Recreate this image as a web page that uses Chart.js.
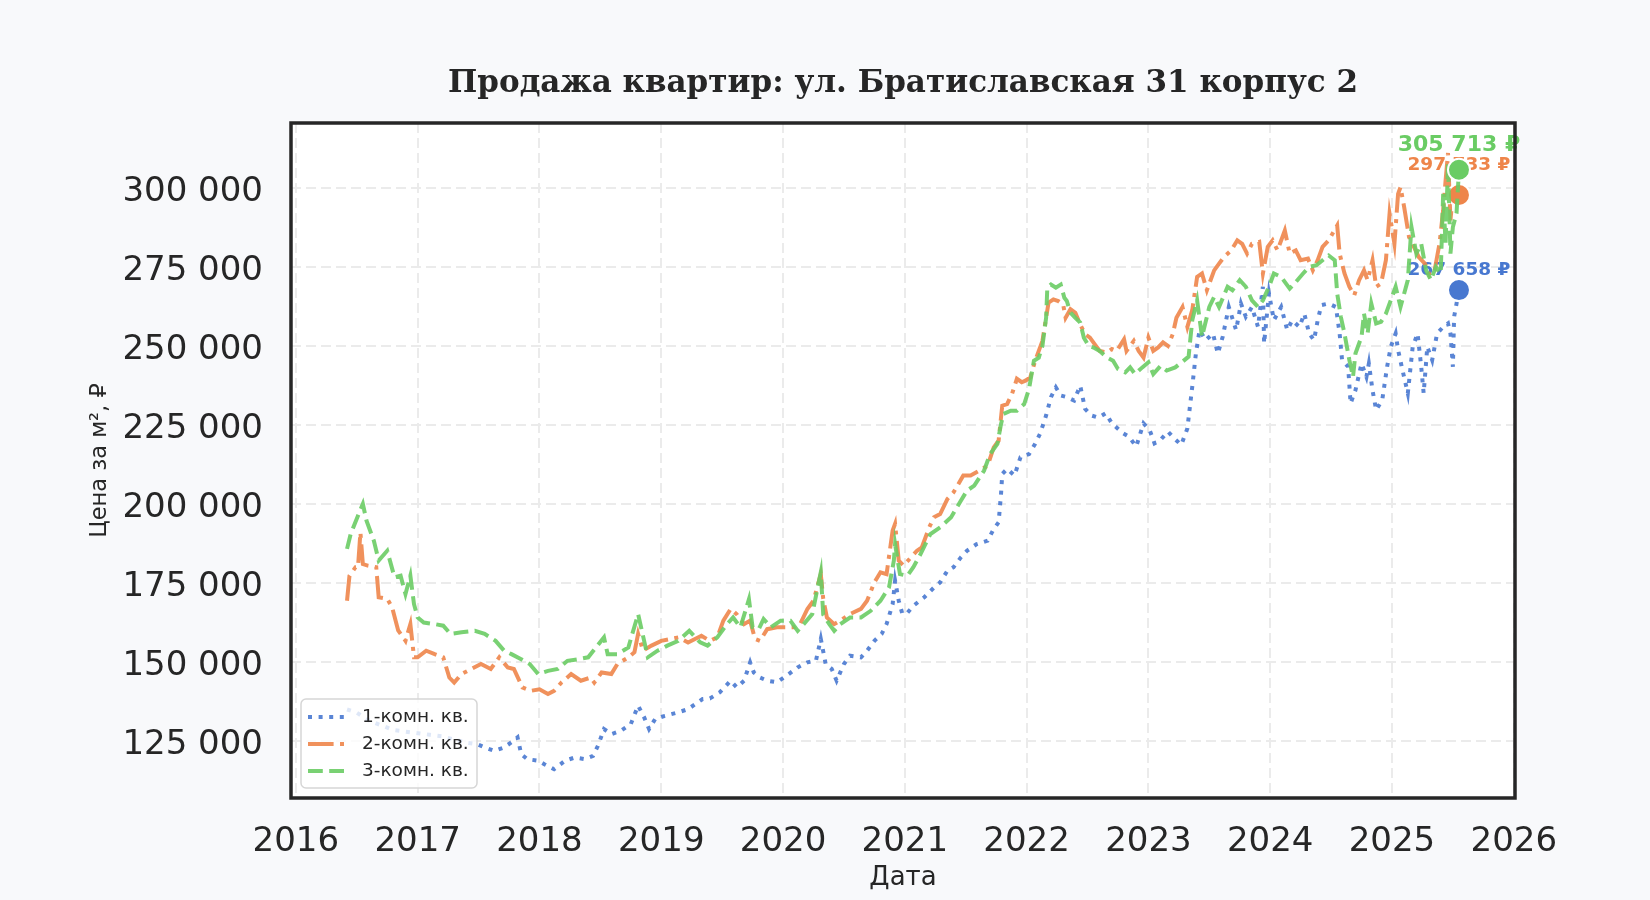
<!DOCTYPE html>
<html lang="ru">
<head>
<meta charset="utf-8">
<title>Продажа квартир: ул. Братиславская 31 корпус 2</title>
<script src="https://cdn.jsdelivr.net/npm/chart.js@4.4.1/dist/chart.umd.min.js"></script>
<style>
  html, body { margin: 0; padding: 0; background: #f8f9fb; }
  #chart { display: block; }
</style>
</head>
<body>
<canvas id="chart" width="1650" height="900"></canvas>
<script>
// [год (десятичный), цена за м²]
const oneRoom = [
  [2016.42,135000],[2016.50,134000],[2016.60,131500],[2016.70,130000],[2016.80,128500],[2016.90,128000],
  [2017.00,127500],[2017.10,127000],[2017.20,126500],[2017.30,125500],[2017.40,124500],[2017.49,124000],
  [2017.55,123000],[2017.63,121900],[2017.71,123000],[2017.77,124600],[2017.82,126200],[2017.85,120900],
  [2017.90,119300],[2017.99,118800],[2018.04,117700],[2018.12,116100],[2018.21,118800],[2018.29,119800],
  [2018.37,119300],[2018.44,120300],[2018.48,123500],[2018.53,128800],[2018.59,127200],[2018.67,128300],
  [2018.75,130400],[2018.81,136200],[2018.86,132500],[2018.90,128800],[2018.95,132000],[2019.03,133000],
  [2019.14,134100],[2019.22,135100],[2019.34,138300],[2019.40,138500],[2019.48,140400],[2019.57,144100],
  [2019.62,142000],[2019.68,144100],[2019.73,149900],[2019.76,146700],[2019.81,145100],[2019.87,144100],
  [2019.95,143600],[2020.03,145700],[2020.12,148300],[2020.20,149900],[2020.27,150400],[2020.31,157300],
  [2020.35,149400],[2020.40,147800],[2020.44,144100],[2020.50,149400],[2020.55,152000],[2020.64,151500],
  [2020.69,153600],[2020.75,156700],[2020.81,158900],[2020.85,162000],[2020.90,168300],[2020.92,175700],
  [2020.95,169400],[2020.98,165200],[2021.02,165500],[2021.07,167800],[2021.16,170500],[2021.24,173600],
  [2021.29,175200],[2021.35,178900],[2021.40,180000],[2021.46,183100],[2021.51,185200],[2021.59,187300],
  [2021.68,188400],[2021.73,192100],[2021.77,194200],[2021.79,203200],[2021.80,209500],[2021.84,211100],
  [2021.90,209000],[2021.95,214800],[2022.02,215800],[2022.07,219000],[2022.11,222200],[2022.16,228000],
  [2022.20,233800],[2022.24,236900],[2022.28,234300],[2022.33,233800],[2022.39,232700],[2022.44,237400],
  [2022.48,230100],[2022.53,228000],[2022.59,227300],[2022.65,228700],[2022.70,225500],[2022.79,222400],
  [2022.84,221300],[2022.90,218200],[2022.96,225500],[2023.01,223400],[2023.05,219200],[2023.10,220300],
  [2023.16,222900],[2023.21,220800],[2023.27,218700],[2023.32,223900],[2023.36,237100],[2023.39,247600],
  [2023.42,255000],[2023.47,251800],[2023.53,253900],[2023.57,247600],[2023.61,252900],[2023.66,262300],
  [2023.72,255000],[2023.76,263400],[2023.80,259200],[2023.85,262300],[2023.90,256000],[2023.94,268700],
  [2023.95,250800],[2023.99,266600],[2024.03,258100],[2024.09,262300],[2024.14,255000],[2024.18,258100],
  [2024.24,256000],[2024.28,260200],[2024.32,253900],[2024.36,251800],[2024.39,258100],[2024.42,262900],
  [2024.48,263400],[2024.54,262300],[2024.57,253900],[2024.59,245500],[2024.64,243400],[2024.66,231800],
  [2024.70,236000],[2024.75,244400],[2024.79,240200],[2024.81,244400],[2024.84,236000],[2024.87,229700],
  [2024.92,232900],[2024.96,243400],[2024.99,249700],[2025.03,253900],[2025.05,248700],[2025.08,243400],
  [2025.13,235000],[2025.17,249700],[2025.21,253900],[2025.24,243400],[2025.26,235000],[2025.29,249700],
  [2025.33,245500],[2025.37,253900],[2025.42,256000],[2025.46,257100],[2025.48,253900],[2025.50,243400],
  [2025.51,259200],[2025.53,263400],[2025.55,267658]
];

const twoRoom = [
  [2016.42,169400],[2016.44,177300],[2016.49,180000],[2016.51,180000],[2016.53,191000],[2016.55,181000],
  [2016.59,180500],[2016.66,180000],[2016.68,170500],[2016.75,170000],[2016.79,167300],[2016.84,160000],
  [2016.90,156700],[2016.94,162000],[2016.97,151500],[2017.00,151500],[2017.07,153600],[2017.14,152500],
  [2017.21,151500],[2017.26,145100],[2017.30,143500],[2017.36,146200],[2017.44,147800],[2017.52,149400],
  [2017.60,147800],[2017.67,151500],[2017.74,148300],[2017.79,147800],[2017.86,142000],[2017.93,140900],
  [2018.00,141400],[2018.07,139900],[2018.12,140900],[2018.18,143500],[2018.26,146200],[2018.34,144100],
  [2018.42,145100],[2018.45,143500],[2018.51,146700],[2018.59,146200],[2018.64,149400],[2018.73,151500],
  [2018.78,153100],[2018.81,158900],[2018.85,153600],[2018.92,155200],[2019.00,156700],[2019.14,157800],
  [2019.22,156200],[2019.33,158300],[2019.40,156700],[2019.46,157800],[2019.51,163100],[2019.57,166800],
  [2019.62,165100],[2019.68,162000],[2019.73,163100],[2019.77,157300],[2019.81,156700],[2019.87,160400],
  [2019.95,161000],[2020.03,161000],[2020.09,161000],[2020.14,162000],[2020.20,166800],[2020.25,169400],
  [2020.31,177800],[2020.33,170000],[2020.36,164100],[2020.42,162000],[2020.47,163100],[2020.55,165200],
  [2020.64,166800],[2020.69,169400],[2020.75,175200],[2020.80,178400],[2020.85,177800],[2020.90,191600],
  [2020.92,193700],[2020.95,182100],[2020.99,180500],[2021.05,183100],[2021.10,185200],[2021.14,186300],
  [2021.20,192600],[2021.24,195800],[2021.29,196800],[2021.35,201600],[2021.40,203700],[2021.44,206300],
  [2021.48,209000],[2021.54,209000],[2021.61,210500],[2021.68,212100],[2021.73,217900],[2021.77,220000],
  [2021.80,231100],[2021.84,231600],[2021.88,234800],[2021.92,239600],[2021.96,238500],[2021.99,239000],
  [2022.03,240000],[2022.07,245300],[2022.13,251600],[2022.16,258900],[2022.18,263700],[2022.22,264700],
  [2022.26,264200],[2022.30,263100],[2022.32,258900],[2022.36,261600],[2022.40,260500],[2022.44,256800],
  [2022.48,253700],[2022.52,252600],[2022.56,250500],[2022.60,248400],[2022.66,247900],[2022.70,249000],
  [2022.74,248400],[2022.80,252100],[2022.82,248400],[2022.88,251600],[2022.92,248400],[2022.96,246300],
  [2023.00,252600],[2023.04,248400],[2023.08,249500],[2023.12,251100],[2023.16,250000],[2023.20,253700],
  [2023.23,258900],[2023.28,262300],[2023.32,256000],[2023.36,261300],[2023.40,271800],[2023.44,272900],
  [2023.48,267600],[2023.54,273900],[2023.58,276000],[2023.62,278100],[2023.68,280200],[2023.73,283400],
  [2023.77,282300],[2023.81,279200],[2023.85,282300],[2023.91,282900],[2023.94,272900],[2023.98,281300],
  [2024.02,283400],[2024.06,280200],[2024.12,286500],[2024.16,279200],[2024.21,280200],[2024.25,277100],
  [2024.31,277600],[2024.35,273900],[2024.39,277100],[2024.43,281300],[2024.48,283400],[2024.55,288100],
  [2024.57,279200],[2024.61,272900],[2024.65,268700],[2024.69,266000],[2024.73,270800],[2024.77,273900],
  [2024.80,270800],[2024.84,277100],[2024.87,268700],[2024.91,269700],[2024.95,277100],[2024.98,291800],
  [2025.02,282300],[2025.05,298100],[2025.07,300200],[2025.10,293900],[2025.14,284400],[2025.18,281300],
  [2025.22,278100],[2025.27,276000],[2025.31,272300],[2025.35,273900],[2025.39,282300],[2025.42,292800],
  [2025.44,302300],[2025.46,311000],[2025.48,289700],[2025.50,298100],[2025.53,296000],[2025.55,297733]
];

const threeRoom = [
  [2016.42,185800],[2016.45,190500],[2016.51,196300],[2016.55,200000],[2016.58,194700],[2016.64,188400],
  [2016.68,182100],[2016.75,185200],[2016.81,176800],[2016.86,177300],[2016.90,171500],[2016.94,177300],
  [2016.97,168300],[2017.00,164100],[2017.05,162500],[2017.14,162000],[2017.21,161500],[2017.27,158900],
  [2017.36,159400],[2017.47,159900],[2017.55,158900],[2017.64,156700],[2017.71,153600],[2017.77,152500],
  [2017.85,150900],[2017.92,149400],[2017.99,146200],[2018.07,147200],[2018.15,147800],[2018.23,150400],
  [2018.32,150900],[2018.40,151500],[2018.53,157800],[2018.56,152500],[2018.64,152500],[2018.73,154600],
  [2018.81,165200],[2018.89,151500],[2018.97,153600],[2019.05,155200],[2019.14,156700],[2019.23,159900],
  [2019.32,156200],[2019.38,155200],[2019.46,157800],[2019.54,162000],[2019.59,164100],[2019.65,161000],
  [2019.72,169900],[2019.75,161000],[2019.80,160400],[2019.84,163600],[2019.90,161000],[2019.98,163100],
  [2020.06,163100],[2020.12,159900],[2020.17,162000],[2020.24,165200],[2020.31,178400],[2020.33,165000],
  [2020.38,162000],[2020.42,159900],[2020.47,162000],[2020.55,164100],[2020.64,164100],[2020.72,166200],
  [2020.80,169400],[2020.87,173600],[2020.91,182100],[2020.92,187300],[2020.96,177800],[2021.02,177300],
  [2021.07,180000],[2021.13,184200],[2021.21,190500],[2021.29,192600],[2021.38,195800],[2021.46,201000],
  [2021.51,204200],[2021.57,205800],[2021.65,210500],[2021.70,215800],[2021.76,219000],[2021.79,225300],
  [2021.81,228500],[2021.87,229500],[2021.92,229500],[2021.98,231600],[2022.02,236400],[2022.06,245300],
  [2022.10,246300],[2022.13,250000],[2022.16,258900],[2022.17,268400],[2022.20,269400],[2022.24,268400],
  [2022.28,269400],[2022.31,265200],[2022.33,264200],[2022.36,260500],[2022.40,258900],[2022.44,257400],
  [2022.47,252600],[2022.51,250000],[2022.55,249500],[2022.60,248400],[2022.66,246300],[2022.71,245300],
  [2022.75,242700],[2022.81,241600],[2022.85,243200],[2022.89,241100],[2022.95,243200],[2023.00,244800],
  [2023.04,241100],[2023.10,243700],[2023.15,242200],[2023.22,243200],[2023.28,245000],[2023.33,246600],
  [2023.36,258100],[2023.40,264400],[2023.44,252900],[2023.50,262300],[2023.54,265500],[2023.58,262300],
  [2023.65,268700],[2023.69,267600],[2023.75,270800],[2023.80,268700],[2023.85,264400],[2023.90,262300],
  [2023.94,264400],[2023.99,268700],[2024.03,272900],[2024.09,271800],[2024.16,268100],[2024.21,270200],
  [2024.27,272900],[2024.32,275000],[2024.38,275500],[2024.43,277100],[2024.48,278600],[2024.53,277100],
  [2024.55,266600],[2024.58,259200],[2024.61,253900],[2024.65,245500],[2024.68,240200],[2024.70,247600],
  [2024.75,252900],[2024.77,260200],[2024.80,253900],[2024.83,263400],[2024.87,257100],[2024.91,257600],
  [2024.95,260200],[2024.99,264400],[2025.03,268700],[2025.07,262300],[2025.10,266600],[2025.13,270800],
  [2025.16,287600],[2025.20,279200],[2025.24,282300],[2025.28,273900],[2025.32,270800],[2025.36,275000],
  [2025.40,272900],[2025.42,298100],[2025.44,282300],[2025.46,308000],[2025.48,279200],[2025.50,287600],
  [2025.53,292000],[2025.55,305713]
];

const seriesNames = ["1-комн. кв.", "2-комн. кв.", "3-комн. кв."];
const xTicks = [2016, 2017, 2018, 2019, 2020, 2021, 2022, 2023, 2024, 2025, 2026];
const yTicks = [125000, 150000, 175000, 200000, 225000, 250000, 275000, 300000];
const chartTitle = "Продажа квартир: ул. Братиславская 31 корпус 2";

const colors = ["#4878d0", "#ee854a", "#6acc64"];
const lineColors = ["rgba(72, 120, 208, 0.9)", "rgba(238, 133, 74, 0.9)", "rgba(106, 204, 100, 0.9)"];
const LW = 4;
const dashes = [[LW, LW * 1.65], [LW * 6.4, LW * 1.6, LW, LW * 1.6], [LW * 3.7, LW * 1.6]];
const textColor = "#262626";

function formatNumber(v) {
    return String(Math.round(v)).replace(/\B(?=(\d{3})+(?!\d))/g, " ");
}

function toPoints(pairs) {
    return pairs.map(p => ({ x: p[0], y: p[1] }));
}

const backgroundPlugin = {
    id: "background",
    beforeDraw(chart) {
        const { ctx, chartArea: a } = chart;
        ctx.save();
        ctx.fillStyle = "#f8f9fb";
        ctx.fillRect(0, 0, chart.width, chart.height);
        ctx.fillStyle = "#ffffff";
        ctx.fillRect(a.left, a.top, a.right - a.left, a.bottom - a.top);
        ctx.restore();
    }
};

// заголовок по центру области графика
const titlePlugin = {
    id: "centeredTitle",
    afterDraw(chart) {
        const { ctx, chartArea: a } = chart;
        ctx.save();
        ctx.font = 'bold 31px "DejaVu Serif"';
        ctx.fillStyle = textColor;
        ctx.textAlign = "center";
        ctx.textBaseline = "middle";
        ctx.fillText(chartTitle, (a.left + a.right) / 2, 84);
        ctx.restore();
    }
};

// подписи последних значений (под линиями, как в оригинале)
const lastValuePlugin = {
    id: "lastValue",
    beforeDatasetsDraw(chart) {
        const ctx = chart.ctx;
        const offsets = [-20, -30, -24];
        const sizes = [18.5, 18.5, 22];
        ctx.save();
        ctx.textAlign = "center";
        ctx.textBaseline = "middle";
        chart.data.datasets.forEach((ds, i) => {
            const meta = chart.getDatasetMeta(i);
            const pt = meta.data[meta.data.length - 1];
            const value = ds.data[ds.data.length - 1].y;
            ctx.font = `bold ${sizes[i]}px "DejaVu Sans"`;
            ctx.fillStyle = colors[i];
            ctx.fillText(formatNumber(value) + " ₽", pt.x, pt.y + offsets[i]);
        });
        ctx.restore();
    }
};

const framePlugin = {
    id: "frame",
    afterDatasetsDraw(chart) {
        const { ctx, chartArea: a } = chart;
        ctx.save();
        ctx.strokeStyle = textColor;
        ctx.lineWidth = 3.5;
        ctx.strokeRect(a.left, a.top, a.right - a.left, a.bottom - a.top);
        ctx.restore();
    }
};

const legendPlugin = {
    id: "boxLegend",
    afterDraw(chart) {
        const ctx = chart.ctx;
        const x = 301, y = 699, w = 176, h = 89, r = 5;
        ctx.save();
        ctx.beginPath();
        ctx.roundRect(x, y, w, h, r);
        ctx.fillStyle = "rgba(255, 255, 255, 0.8)";
        ctx.fill();
        ctx.lineWidth = 1.5;
        ctx.strokeStyle = "#d6d6d6";
        ctx.stroke();

        ctx.font = '18.5px "DejaVu Sans"';
        ctx.textBaseline = "middle";
        seriesNames.forEach((name, i) => {
            const rowY = 717 + i * 27;
            ctx.beginPath();
            ctx.setLineDash(dashes[i]);
            ctx.lineWidth = LW;
            ctx.strokeStyle = lineColors[i];
            ctx.moveTo(308, rowY);
            ctx.lineTo(345, rowY);
            ctx.stroke();
            ctx.setLineDash([]);
            ctx.fillStyle = textColor;
            ctx.fillText(name, 362, rowY);
        });
        ctx.restore();
    }
};

document.addEventListener("DOMContentLoaded", function() {
    const canvas = document.getElementById("chart").getContext("2d");
    const allSeries = [oneRoom, twoRoom, threeRoom];

    const datasets = allSeries.map((series, i) => ({
        label: seriesNames[i],
        data: toPoints(series),
        borderColor: lineColors[i],
        borderWidth: LW,
        borderDash: dashes[i],
        borderCapStyle: "butt",
        tension: 0,
        fill: false,
        order: 3 - i,
        pointRadius: ctx => (ctx.dataIndex === series.length - 1 ? 11 : 0),
        pointHoverRadius: 0,
        pointBackgroundColor: colors[i],
        pointBorderColor: "#ffffff",
        pointBorderWidth: 2
    }));

    new Chart(canvas, {
        type: "line",
        data: { datasets },
        plugins: [backgroundPlugin, lastValuePlugin, framePlugin, legendPlugin, titlePlugin],
        options: {
            responsive: false,
            animation: false,
            devicePixelRatio: 1,
            layout: { padding: { left: 0, right: 135, top: 123, bottom: 0 } },
            plugins: {
                legend: { display: false },
                tooltip: { enabled: false },
                title: { display: false }
            },
            scales: {
                x: {
                    type: "linear",
                    min: 2015.96,
                    max: 2026.01,
                    afterBuildTicks: s => { s.ticks = xTicks.map(v => ({ value: v })); },
                    afterFit: s => { s.height = 102; },
                    grid: { color: "#ebebeb", lineWidth: 2, drawTicks: false },
                    border: { display: false, dash: [10, 5] },
                    ticks: {
                        autoSkip: false,
                        maxRotation: 0,
                        padding: 24,
                        color: textColor,
                        font: { family: "DejaVu Sans", size: 34 },
                        callback: v => String(v)
                    },
                    title: {
                        display: true,
                        text: "Дата",
                        color: textColor,
                        font: { family: "DejaVu Sans", size: 26 },
                        padding: { top: 0, bottom: 6 }
                    }
                },
                y: {
                    type: "linear",
                    min: 107000,
                    max: 320500,
                    afterBuildTicks: s => { s.ticks = yTicks.map(v => ({ value: v })); },
                    afterFit: s => { s.width = 291; },
                    grid: { color: "#ebebeb", lineWidth: 2, drawTicks: false },
                    border: { display: false, dash: [10, 5] },
                    ticks: {
                        padding: 28,
                        labelOffset: 4,
                        color: textColor,
                        font: { family: "DejaVu Sans", size: 34 },
                        callback: v => formatNumber(v)
                    },
                    title: {
                        display: true,
                        text: "Цена за м², ₽",
                        color: textColor,
                        font: { family: "DejaVu Sans", size: 22.5 },
                        padding: { top: 87, bottom: 0 }
                    }
                }
            }
        }
    });
});
</script>
</body>
</html>
